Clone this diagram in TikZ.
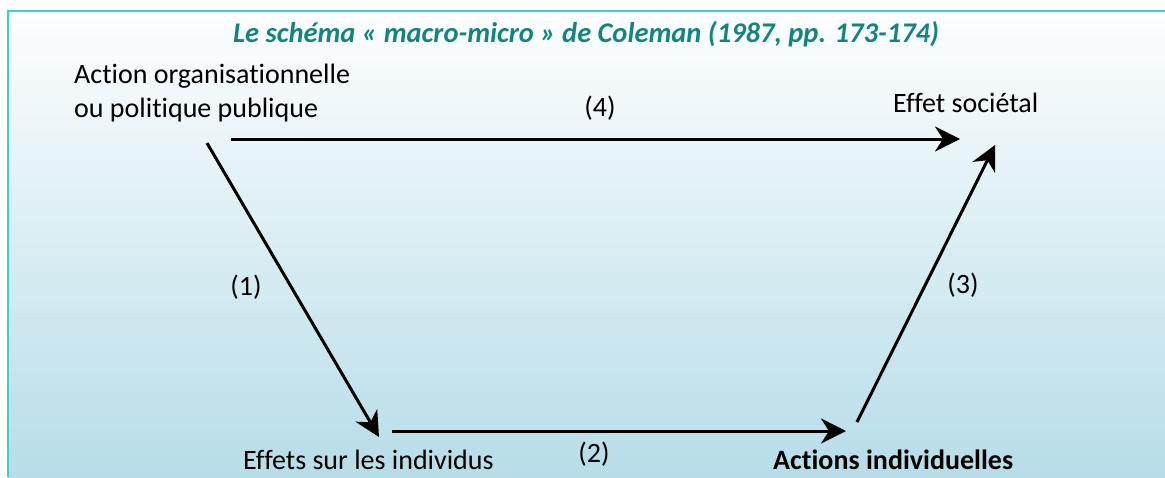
\documentclass[tikz,border=0pt]{standalone}
\usepackage{fontspec}
\setmainfont[Ligatures={NoCommon}]{Carlito}
\usetikzlibrary{arrows.meta}
\definecolor{bordercol}{HTML}{3DCFD0}
\definecolor{titlecol}{HTML}{13847F}
\definecolor{bgbottom}{HTML}{B7DDE8}
\definecolor{bgtop}{HTML}{FDFEFF}
\tikzset{
  lbl/.style={font=\fontsize{28}{34}\selectfont, inner sep=0pt, align=left},
  conn/.style={line width=3pt, -{Stealth[length=25pt,width=25pt,inset=8pt]}}
}
\begin{document}
\begin{tikzpicture}[x=1pt,y=-1pt]
\useasboundingbox (0,0) rectangle (1165,477);
\fill[white] (0,0) rectangle (1165,477);
\shade[top color=bgtop, bottom color=bgbottom] (8,11) rectangle (1165,477);
\draw[bordercol, line width=2.6pt] (8,477) -- (8,11) -- (1165,11);
\node[font=\fontsize{28.5}{34}\selectfont\bfseries\itshape, text=titlecol, inner sep=0pt, anchor=base] (title) at (586,42) {Le schéma « macro-micro » de Coleman (1987, pp. 173-174)};
\node[lbl, anchor=base west] (action) at (74,83) {Action organisationnelle};
\node[lbl, anchor=base west] (action2) at (74,117) {ou politique publique};
\node[lbl] (l4) at (600,108) {(4)};
\node[lbl, anchor=base west] (effet) at (893,112) {Effet sociétal};
\node[lbl] (l1) at (246,287) {(1)};
\node[lbl] (l3) at (963,285) {(3)};
\node[lbl, anchor=base west] (effets) at (243,469) {Effets sur les individus};
\node[lbl] (l2) at (594,454) {(2)};
\node[lbl, font=\fontsize{28}{34}\selectfont\bfseries, anchor=base west] (actions) at (773,469) {Actions individuelles};
\coordinate (a4s) at (231,139);
\coordinate (a4e) at (960,139);
\coordinate (a1s) at (207,143);
\coordinate (a1e) at (379,437);
\coordinate (a2s) at (392,431);
\coordinate (a2e) at (846,431);
\coordinate (a3s) at (857,422);
\coordinate (a3e) at (995,145);
\draw[conn] (a4s) -- (a4e);
\draw[conn] (a1s) -- (a1e);
\draw[conn] (a2s) -- (a2e);
\draw[conn] (a3s) -- (a3e);
\end{tikzpicture}
\end{document}
